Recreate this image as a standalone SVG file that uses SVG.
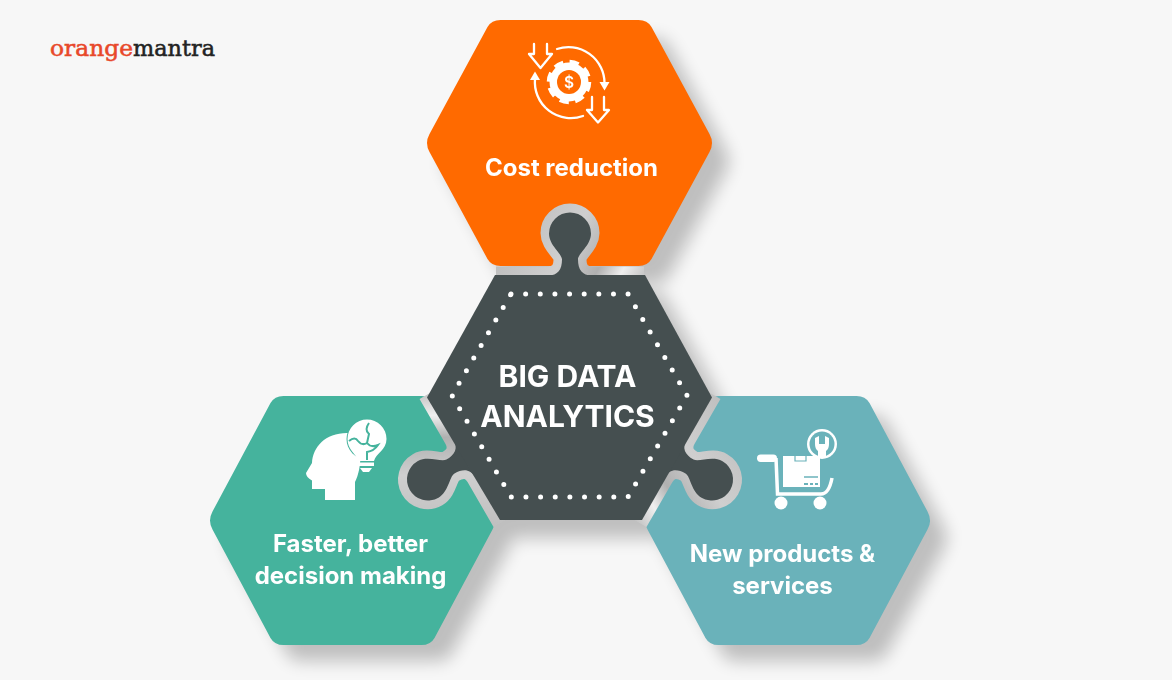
<svg xmlns="http://www.w3.org/2000/svg" xmlns:xlink="http://www.w3.org/1999/xlink" width="1172" height="680" viewBox="0 0 1172 680">
<style>
.lbl{font-family:"Inter","Liberation Sans",sans-serif;font-weight:700;font-size:24px;fill:#fff;text-anchor:middle}
.big{font-size:30px}
.logo{font-family:"DejaVu Serif","Liberation Serif",serif;font-size:23px;stroke-width:.55px}
.line{fill:none;stroke:#fff;stroke-width:2.3;stroke-linecap:round;stroke-linejoin:round}
</style>
<defs>
<path id="hex" d="M-69-123H69Q78-123 82-116L140-9Q145 0 140 9L82 116Q78 123 69 123H-69Q-78 123-82 116L-140 9Q-145 0-140-9L-82-116Q-78-123-69-123Z"/>
<path id="knob" d="M-22 0C-12 0-8-6-8-16C-8-22-21-30-21-42A21 21 0 1 1 21-42C21-30 8-22 8-16C8-6 12 0 22 0Z"/>
<path id="bandline" d="M-74 0H-22C-12 0-8-6-8-16C-8-22-21-30-21-42A21 21 0 1 1 21-42C21-30 8-22 8-16C8-6 12 0 22 0H74"/>
<linearGradient id="metal" gradientUnits="userSpaceOnUse" x1="-60" y1="-60" x2="70" y2="10">
<stop offset="0" stop-color="#bcbcbc"/><stop offset=".45" stop-color="#cfcfcf"/><stop offset=".7" stop-color="#b0b0b0"/><stop offset=".85" stop-color="#efefef"/><stop offset="1" stop-color="#c4c4c4"/>
</linearGradient>
<filter id="soft" x="-30%" y="-30%" width="160%" height="160%"><feGaussianBlur stdDeviation="8.500"/></filter>
</defs>
<rect width="1172" height="680" fill="#f7f7f7"/>
<g id="logo">
<text class="logo" x="50" y="56" fill="#e8482a" stroke="#e8482a" textLength="83" lengthAdjust="spacingAndGlyphs">orange</text>
<text class="logo" x="133" y="56" fill="#232323" stroke="#232323" textLength="82" lengthAdjust="spacingAndGlyphs">mantra</text>
</g>
<g id="shadows" fill="#000" opacity=".23" filter="url(#soft)">
<use xlink:href="#hex" href="#hex" transform="translate(586.500 161)"/>
<use xlink:href="#hex" href="#hex" transform="translate(584.500 415)"/>
<use xlink:href="#hex" href="#hex" transform="translate(369.500 538)"/>
<use xlink:href="#hex" href="#hex" transform="translate(804.500 538)"/>
</g>
<g id="node-cost-reduction">
<use xlink:href="#hex" href="#hex" transform="translate(569.500 143)" fill="#ff6a00"/>
<g id="icon-cost">
<path class="line" d="M534 44V54H529L540.500 68L552 54H547V44"/>
<path class="line" d="M592 97V110H587L598 122.500L609 110H604V97"/>
<path class="line" d="M557 49A36 36 0 0 1 604.500 83"/>
<path d="M599.500 82H609.500L604.500 90.500Z" fill="#fff"/>
<path class="line" d="M583 116A36 36 0 0 1 535 79"/>
<path d="M530 80H540L535 71.500Z" fill="#fff"/>
<circle cx="569" cy="82" r="19.500" fill="#fff"/>
<circle cx="569" cy="82" r="20.500" fill="none" stroke="#fff" stroke-width="3.500" stroke-dasharray="9.500 6.600"/>
<circle cx="569" cy="82" r="12" fill="#ff6a00"/>
<text x="569" y="87.500" font-family="Inter,'Liberation Sans',sans-serif" font-weight="600" font-size="15.500" fill="#fff" text-anchor="middle">$</text>
</g>
<text class="lbl" x="571.500" y="176">Cost reduction</text>
</g>
<g id="node-decision-making">
<use xlink:href="#hex" href="#hex" transform="translate(352.500 520.500) scale(1 1.012)" fill="#45b39d"/>
<g id="icon-head">
<path d="M325 500V489H312V480.500Q306 477 306 473L312 463C313 447 325 433 347 433C365 434 362 470 355 482V500Z" fill="#fff"/>
<circle cx="367" cy="439" r="20.500" fill="#45b39d"/>
<path d="M358 461C356 453 347.500 450 347.500 439A19.500 19.500 0 0 1 386.500 439C386.500 450 376 453 374 461Z" fill="#fff"/>
<path d="M358 462.500H374V466H358ZM360 468H372L369 472H363Z" fill="#fff"/>
<path d="M349 441Q355 436 358 441Q362 446 367 443L369 434Q364 430 369 423M367 443Q371 448 378 445Q374 451 367 452V460" fill="none" stroke="#45b39d" stroke-width="2"/>
</g>
<text class="lbl" x="350.500" y="552">Faster, better</text>
<text class="lbl" x="350.500" y="584">decision making</text>
</g>
<g id="node-new-products">
<use xlink:href="#hex" href="#hex" transform="translate(787.500 520.500) scale(1 1.012)" fill="#6ab2ba"/>
<g id="icon-cart">
<circle cx="822" cy="444" r="15" fill="#fff"/>
<circle cx="822" cy="444" r="12.500" fill="#6ab2ba"/>
<path d="M815 438V444Q815 449 818 451V458H826V451Q829 449 829 444V438L825 436V444H819V436Z" fill="#fff"/>
<rect x="757" y="454.500" width="20" height="7.500" rx="3.700" fill="#fff"/>
<path d="M776 458L777.500 494H821Q829 494 832 478" fill="none" stroke="#fff" stroke-width="3.500"/>
<path d="M783 456H820V487H783Z" fill="#fff"/>
<path d="M795 456V461H806V456" fill="#fff" stroke="#6ab2ba" stroke-width="1.200"/>
<path d="M804 477H818" stroke="#6ab2ba" stroke-width="1.500"/>
<path d="M804 484H808M810 484H813M815 484H818" stroke="#6ab2ba" stroke-width="2"/>
<circle cx="781" cy="503" r="6.500" fill="#fff"/>
<circle cx="820" cy="503" r="6.500" fill="#fff"/>
</g>
<text class="lbl" x="782.500" y="562">New products &amp;</text>
<text class="lbl" x="782.500" y="594">services</text>
</g>
<g id="connectors">
<use xlink:href="#bandline" href="#bandline" transform="translate(570 275)" fill="none" stroke="url(#metal)" stroke-width="17"/>
<use xlink:href="#bandline" href="#bandline" transform="rotate(-120 570 397.500) translate(570 275)" fill="none" stroke="url(#metal)" stroke-width="17"/>
<use xlink:href="#bandline" href="#bandline" transform="rotate(120 570 397.500) translate(570 275)" fill="none" stroke="url(#metal)" stroke-width="17"/>
<use xlink:href="#knob" href="#knob" transform="translate(570 275.500)" fill="#454f50"/>
<use xlink:href="#knob" href="#knob" transform="rotate(-120 570 397.500) translate(570 275.500)" fill="#454f50"/>
<use xlink:href="#knob" href="#knob" transform="rotate(120 570 397.500) translate(570 275.500)" fill="#454f50"/>
</g>
<g id="node-big-data">
<path d="M495 275H645L712 397.500L642 520H500L427 397.500Z" fill="#454f50"/>
<path d="M511 294H628L687 395.500L628 497H511L452 395.500Z" fill="none" stroke="#fff" stroke-width="5" stroke-linecap="round" stroke-dasharray="0 14.640"/>
<text class="lbl big" x="567.500" y="387">BIG DATA</text>
<text class="lbl big" x="567.500" y="427">ANALYTICS</text>
</g>
</svg>
